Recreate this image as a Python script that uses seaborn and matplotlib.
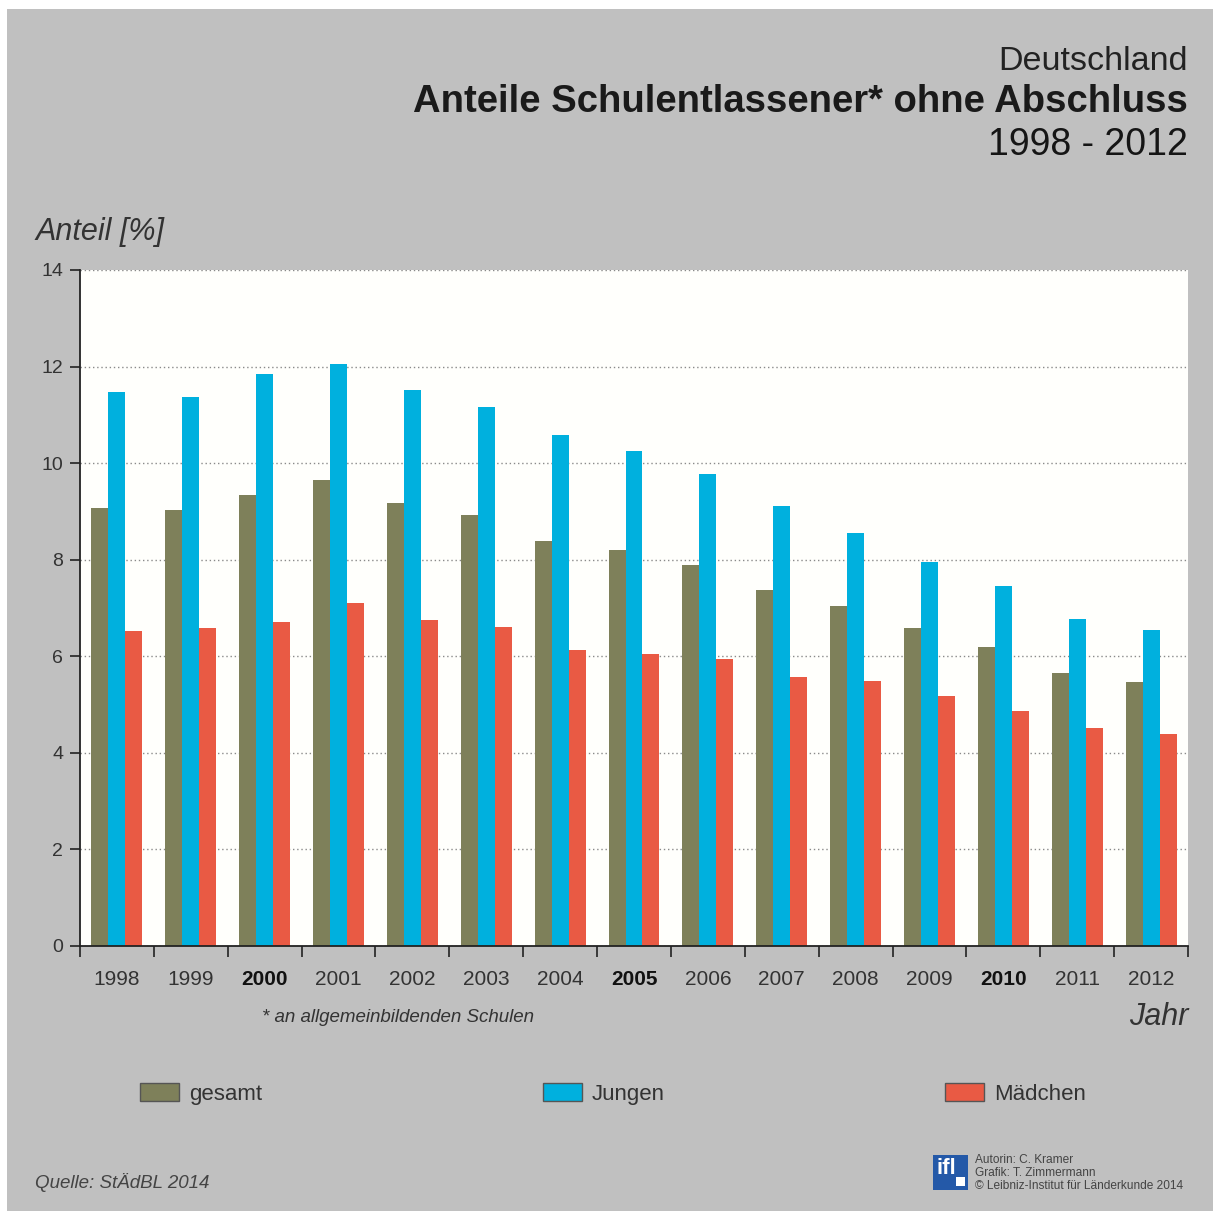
import matplotlib.pyplot as plt
import matplotlib.patches as mpatches
import numpy as np
import pandas as pd
import seaborn as sns

years = ["1998", "1999", "2000", "2001", "2002", "2003", "2004", "2005",
         "2006", "2007", "2008", "2009", "2010", "2011", "2012"]
gesamt = [9.07, 9.03, 9.34, 9.65, 9.17, 8.93, 8.39, 8.20, 7.89, 7.37, 7.04, 6.59, 6.19, 5.65, 5.47]
jungen = [11.47, 11.37, 11.85, 12.05, 11.51, 11.16, 10.58, 10.25, 9.77, 9.11, 8.55, 7.95, 7.45, 6.77, 6.54]
maedchen = [6.52, 6.59, 6.71, 7.10, 6.75, 6.61, 6.13, 6.05, 5.94, 5.57, 5.49, 5.18, 4.87, 4.51, 4.39]
groups = ["gesamt", "Jungen", "Mädchen"]
bold_years = ["2000", "2005", "2010"]

df = pd.DataFrame({
    "Jahr": years * 3,
    "Gruppe": np.repeat(groups, len(years)),
    "Anteil": gesamt + jungen + maedchen,
})

colors = {"gesamt": "#7e805a", "Jungen": "#00b0de", "Mädchen": "#e95a44"}
W, H = 1213, 1211

sns.set_style("white")
plt.rcParams["font.family"] = ["Liberation Sans", "DejaVu Sans"]

fig = plt.figure(figsize=(W / 100, H / 100), dpi=100)
fig.patch.set_facecolor("white")
# grey panel behind everything
fig.patches.append(mpatches.Rectangle((7 / W, 0), 1, 1 - 9 / H, transform=fig.transFigure,
                                      facecolor="#c0c0c0", edgecolor="none", zorder=-10))

ax = fig.add_axes([80 / W, 1 - 946 / H, (1188 - 80) / W, (946 - 270) / H])
ax.set_facecolor("#fffffc")

sns.barplot(data=df, x="Jahr", y="Anteil", hue="Gruppe", palette=colors,
            width=0.69, gap=0, saturation=1, edgecolor="none", linewidth=0, ax=ax)

ax.set_xlim(-0.5, len(years) - 0.5)
ax.set_ylim(0, 14)
ax.set_yticks(range(0, 15, 2))
ax.grid(axis="y", linestyle=(0, (1, 2)), color="#8a8a8a", linewidth=1.0)
ax.set_axisbelow(True)
for s in ["top", "right"]:
    ax.spines[s].set_visible(False)
for s in ["left", "bottom"]:
    ax.spines[s].set_color("#222222")
    ax.spines[s].set_linewidth(1.3)

ax.tick_params(axis="y", direction="out", length=7, width=1.2, color="#222222",
               labelsize=14, labelcolor="#333333", pad=5, left=True)
ax.set_xticks(range(len(years)))
ax.set_xticklabels(years)
ax.tick_params(axis="x", length=0, labelsize=15, labelcolor="#333333", pad=17)
ax.set_xticks(np.arange(-0.5, len(years), 1), minor=True)
ax.tick_params(axis="x", which="minor", direction="out", length=8, width=1.2,
               color="#222222", bottom=True)
for lab in ax.get_xticklabels():
    if lab.get_text() in bold_years:
        lab.set_fontweight("bold")
        lab.set_color("#111111")
ax.set_xlabel("")
ax.set_ylabel("")

handles, labels = ax.get_legend_handles_labels()
ax.get_legend().remove()
for h in handles:
    h.set_edgecolor("#555555")
    h.set_linewidth(1)
fig.legend(handles, labels, ncol=3, loc="center left", mode="expand",
           bbox_to_anchor=(140 / W, 1 - 1094 / H, (1086 - 140) / W, 0.0),
           frameon=False, fontsize=16, handlelength=1.75, handleheight=0.85,
           handletextpad=0.45, borderpad=0, borderaxespad=0, labelcolor="#333333")

# titles
fig.text(1188 / W, 1 - 62 / H, "Deutschland", ha="right", va="center",
         fontsize=24.5, color="#222222")
fig.text(1188 / W, 1 - 102 / H, "Anteile Schulentlassener* ohne Abschluss", ha="right",
         va="center", fontsize=27.5, fontweight="bold", color="#1a1a1a")
fig.text(1188 / W, 1 - 145 / H, "1998 - 2012", ha="right", va="center",
         fontsize=27, color="#151515")

fig.text(35 / W, 1 - 232 / H, "Anteil [%]", ha="left", va="center",
         fontsize=22, style="italic", color="#333333")
fig.text(1188 / W, 1 - 1017 / H, "Jahr", ha="right", va="center",
         fontsize=22, style="italic", color="#333333")
fig.text(262 / W, 1 - 1017 / H, "* an allgemeinbildenden Schulen", ha="left", va="center",
         fontsize=13.5, style="italic", color="#333333")
fig.text(35 / W, 1 - 1182 / H, "Quelle: StÄdBL 2014", ha="left", va="center",
         fontsize=13.5, style="italic", color="#444444")

# logo and credits
fig.patches.append(mpatches.Rectangle((933 / W, 1 - 1190 / H), 35 / W, 35 / H,
                                      transform=fig.transFigure, facecolor="#2459a8",
                                      edgecolor="none"))
fig.text(936 / W, 1 - 1168 / H, "ifl", ha="left", va="center", fontsize=16,
         fontweight="bold", color="white")
fig.patches.append(mpatches.Rectangle((956 / W, 1 - 1186 / H), 9 / W, 9 / H,
                                      transform=fig.transFigure, facecolor="white",
                                      edgecolor="none"))
for i, line in enumerate(["Autorin: C. Kramer", "Grafik: T. Zimmermann",
                          "© Leibniz-Institut für Länderkunde 2014"]):
    fig.text(975 / W, 1 - (1160 + 13 * i) / H, line, ha="left", va="center",
             fontsize=8.6, color="#444444")

fig.savefig("out.png", dpi=100, facecolor=fig.get_facecolor())
